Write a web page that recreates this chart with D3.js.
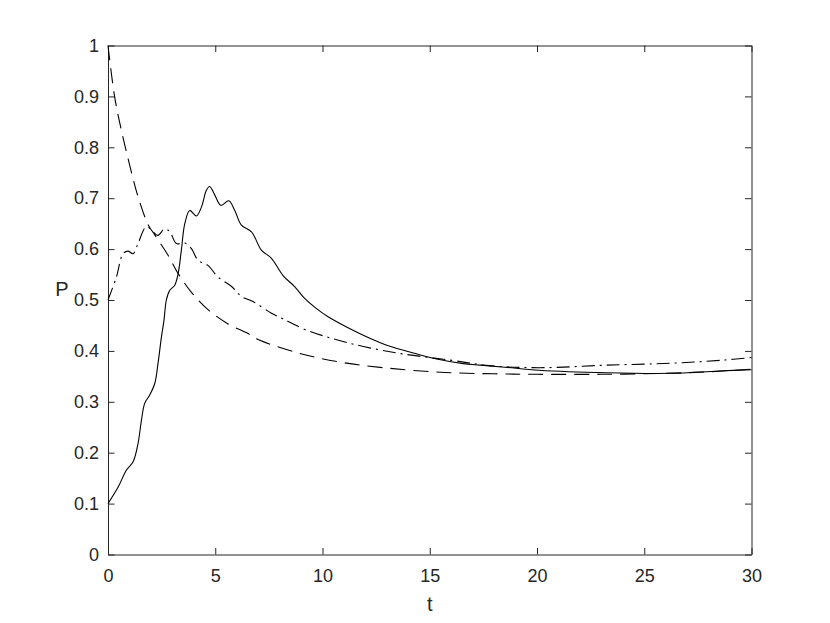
<!DOCTYPE html>
<html><head><meta charset="utf-8">
<script src="https://cdn.jsdelivr.net/npm/d3@7"></script>
<style>body{margin:0;background:#fff}</style>
</head><body>
<svg id="c" width="830" height="623"></svg>
<script>
// Data
const xTicks = [0, 5, 10, 15, 20, 25, 30];
const yTicks = [0, 0.1, 0.2, 0.3, 0.4, 0.5, 0.6, 0.7, 0.8, 0.9, 1];

const tSolid = [0, 0.48, 0.86, 1.17, 1.4, 1.56, 1.71, 1.94, 2.18, 2.33, 2.49, 2.61, 2.72, 2.88, 3.11, 3.27, 3.42, 3.58, 3.81, 4.12, 4.36, 4.59, 4.74, 4.98, 5.26, 5.63, 5.91, 6.22, 6.69, 7.15, 7.62, 8.16, 8.71, 9.17, 9.72, 10.26, 11.12, 12.05, 13.14, 14.23, 15.32, 16.56, 17.34, 18.5, 20.1, 23.25, 26.35, 28.7, 30];
const pSolid = [0.1, 0.133, 0.166, 0.182, 0.218, 0.264, 0.297, 0.313, 0.336, 0.375, 0.427, 0.46, 0.5, 0.519, 0.529, 0.552, 0.598, 0.65, 0.676, 0.665, 0.683, 0.716, 0.723, 0.706, 0.686, 0.695, 0.676, 0.647, 0.634, 0.598, 0.582, 0.548, 0.526, 0.503, 0.483, 0.467, 0.447, 0.428, 0.409, 0.396, 0.384, 0.375, 0.372, 0.368, 0.362, 0.357, 0.356, 0.361, 0.363];

const tDashed = [0, 0.31, 0.62, 1.01, 1.4, 1.87, 2.18, 2.8, 3.27, 3.89, 4.66, 5.56, 6.53, 7.08, 8.94, 10.81, 12.83, 15.5, 18, 20, 23, 26, 28, 30];
const pDashed = [1.0, 0.899, 0.834, 0.765, 0.703, 0.648, 0.628, 0.588, 0.552, 0.515, 0.481, 0.454, 0.434, 0.421, 0.395, 0.378, 0.367, 0.358, 0.355, 0.354, 0.354, 0.356, 0.359, 0.364];

const tDashDot = [0, 0.39, 0.7, 0.93, 1.17, 1.4, 1.79, 2.1, 2.33, 2.64, 2.88, 3.19, 3.58, 3.89, 4.2, 4.66, 5.13, 5.75, 6.22, 6.8, 7.62, 8.16, 9.25, 11.27, 13.6, 15.94, 17.8, 20.1, 23.25, 26.35, 28.7, 30];
const pDashDot = [0.5, 0.545, 0.591, 0.596, 0.591, 0.611, 0.644, 0.634, 0.627, 0.64, 0.634, 0.611, 0.612, 0.601, 0.578, 0.568, 0.545, 0.527, 0.507, 0.496, 0.474, 0.463, 0.441, 0.415, 0.395, 0.382, 0.371, 0.367, 0.372, 0.376, 0.382, 0.387];

const svg = d3.select("#c");
const L = 108, R = 751.5, T = 45.5, B = 554.5;
const x = d3.scaleLinear().domain([0, 30]).range([L, R]);
const y = d3.scaleLinear().domain([0, 1]).range([B, T]);
const axisColor = "#262626";
const font = "'Liberation Sans', Arial, Helvetica, sans-serif";
const tk = 6.5;

function styleAxis(g) {
  g.selectAll("path.domain").attr("stroke", axisColor).attr("stroke-width", 1);
  g.selectAll(".tick line").attr("stroke", axisColor).attr("stroke-width", 1);
  g.selectAll(".tick text").attr("fill", axisColor).style("font-family", font).style("font-size", "18px");
}

svg.append("g").attr("transform", `translate(0,${B})`)
  .call(d3.axisBottom(x).tickValues(xTicks).tickSize(-tk).tickSizeOuter(0).tickPadding(15).tickFormat(d3.format("d")))
  .call(styleAxis);
svg.append("g").attr("transform", `translate(0,${T})`)
  .call(d3.axisTop(x).tickValues(xTicks).tickSize(-tk).tickSizeOuter(0).tickFormat(""))
  .call(styleAxis);
svg.append("g").attr("transform", `translate(${L},0)`)
  .call(d3.axisLeft(y).tickValues(yTicks).tickSize(-tk).tickSizeOuter(0).tickPadding(9).tickFormat(d => d3.format("")(+d.toFixed(1))))
  .call(styleAxis);
svg.append("g").attr("transform", `translate(${R},0)`)
  .call(d3.axisRight(y).tickValues(yTicks).tickSize(-tk).tickSizeOuter(0).tickFormat(""))
  .call(styleAxis);

const line = d3.line().x(d => x(d[0])).y(d => y(d[1])).curve(d3.curveCatmullRom.alpha(0.5));
function draw(ts, ps, dash) {
  svg.append("path").datum(ts.map((t, i) => [t, ps[i]]))
    .attr("d", line).attr("fill", "none").attr("stroke", "#000")
    .attr("stroke-width", 1.1).attr("stroke-dasharray", dash);
}
draw(tSolid, pSolid, null);
draw(tDashed, pDashed, "15,8");
draw(tDashDot, pDashDot, "13,5,2,5");

svg.append("text").attr("x", (L + R) / 2).attr("y", 611).attr("text-anchor", "middle")
  .attr("fill", axisColor).style("font-family", font).style("font-size", "20px").text("t");
svg.append("text").attr("x", 62).attr("y", 296).attr("text-anchor", "middle")
  .attr("fill", axisColor).style("font-family", font).style("font-size", "20px").text("P");
</script>
</body></html>
